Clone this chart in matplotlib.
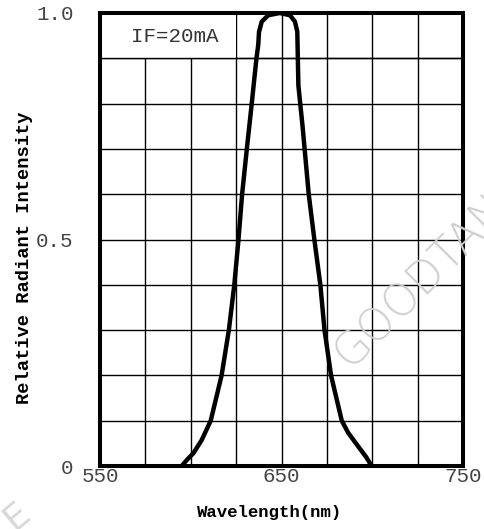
import matplotlib
matplotlib.use('Agg')

import numpy as np
from matplotlib import pyplot as plt
from matplotlib.patches import Rectangle

# spectrum (nm, relative intensity)
wavelength = [595, 598, 601.4, 606, 611, 617, 621, 624, 626.3, 628.3, 630.9,
              633.6, 636.2, 637.2, 637.6, 639.1, 642.7, 649, 654.7, 657.4,
              658.7, 659.3, 661.6, 665, 668.1, 671.4, 673.7, 677.3, 683.2,
              686.8, 692.3, 696.6, 699.7]
intensity = [0.0, 0.014, 0.028, 0.057, 0.10, 0.20, 0.30, 0.40, 0.50, 0.60, 0.70,
             0.80, 0.90, 0.93, 0.958, 0.981, 0.995, 1.0, 0.995, 0.981,
             0.959, 0.84, 0.75, 0.60, 0.50, 0.40, 0.30, 0.20, 0.10,
             0.073, 0.043, 0.02, 0.0]

xticks = [550, 650, 750]
yticks = [0, 0.5, 1.0]
yticklabels = ['0', '0.5', '1.0']

fig = plt.figure(figsize=(4.84, 5.29), dpi=100)
ax = fig.add_axes([100/484, 1-466/529, 363/484, 453/529])

ax.set_xlim(550, 750)
ax.set_ylim(0, 1.0)

# grid
for x in np.arange(575, 750, 25):
    ax.axvline(x, color='black', lw=1.0, zorder=1)
for y in np.arange(0.1, 1.0, 0.1):
    ax.axhline(y, color='black', lw=1.0, zorder=1)

# label box in top-left cells
ax.add_patch(Rectangle((550, 0.9), 75, 0.1, facecolor='white', edgecolor='none', zorder=2))
ax.axhline(0.9, color='black', lw=1.0, zorder=3)
ax.text(591, 0.948, 'IF=20mA', ha='center', va='center', fontsize=15,
        family='Liberation Mono', color='#333333', zorder=4)

ax.plot(wavelength, intensity, color='black', lw=3.2, zorder=5,
        solid_capstyle='round', solid_joinstyle='round')

for s in ax.spines.values():
    s.set_linewidth(2.9)
    s.set_zorder(6)

ax.set_xticks(xticks)
ax.set_xticklabels([str(t) for t in xticks])
ax.set_yticks(yticks)
ax.set_yticklabels(yticklabels)
ax.tick_params(length=0, labelsize=15, labelcolor='#444444')
for lab in ax.get_xticklabels() + ax.get_yticklabels():
    lab.set_family('Liberation Mono')
ax.tick_params(axis='x', pad=1)
ax.tick_params(axis='y', pad=19)

ax.set_xlabel('Wavelength(nm)', fontsize=12.5, fontweight='bold',
              family='Liberation Mono')
ax.xaxis.set_label_coords(0.467, -0.086)
ax.set_ylabel('Relative Radiant Intensity', fontsize=13.5, fontweight='bold',
              family='Liberation Mono')
ax.yaxis.set_label_coords(-0.185, 0.46)

# faint watermark
fig.text(0.87, 0.47, 'GOODTAN', rotation=45, fontsize=32, color='#cfcfcf',
         ha='center', va='center', family='DejaVu Sans', fontweight='light', zorder=0)
fig.text(0.035, 0.025, 'E', rotation=40, fontsize=26, color='#d8d8d8',
         ha='center', va='center', zorder=0)

plt.savefig('out.png', dpi=100)
